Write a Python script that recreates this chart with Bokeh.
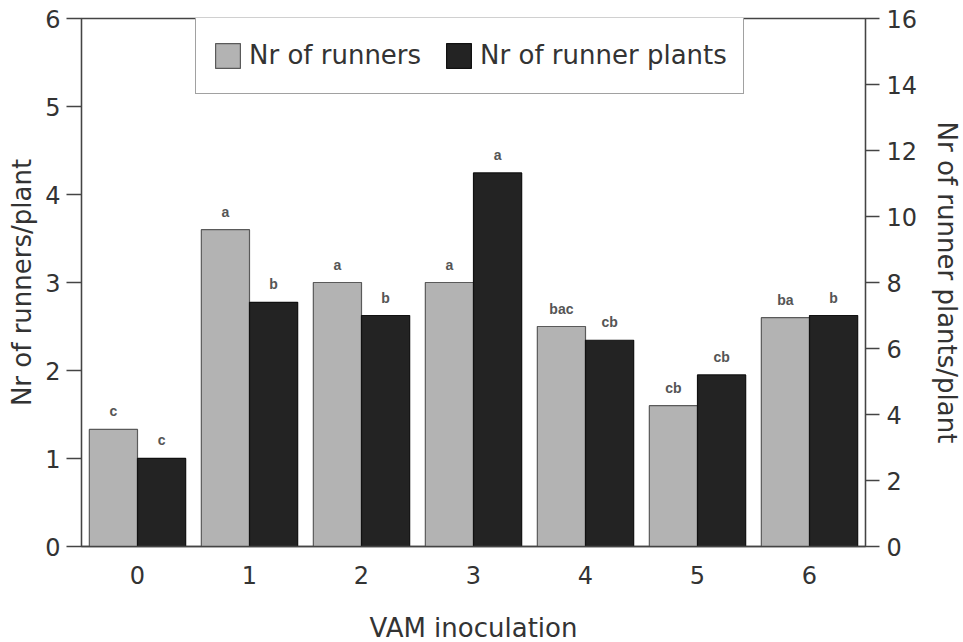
from bokeh.plotting import figure
from bokeh.models import (ColumnDataSource, Range1d, LinearAxis, FixedTicker,
                          Legend, LegendItem)
from bokeh.transform import dodge
from bokeh.core.properties import value
from bokeh.embed import file_html
from bokeh.resources import INLINE

# ---- data ----
vam = [0, 1, 2, 3, 4, 5, 6]
runners = [1.33, 3.6, 3.0, 3.0, 2.5, 1.6, 2.6]            # left axis
runner_plants = [2.67, 7.4, 7.0, 11.32, 6.25, 5.2, 7.0]   # right axis
runners_sig = ["c", "a", "a", "a", "bac", "cb", "ba"]
plants_sig = ["c", "b", "b", "a", "cb", "cb", "b"]
left_ticks = [0, 1, 2, 3, 4, 5, 6]
right_ticks = [0, 2, 4, 6, 8, 10, 12, 14, 16]

src = ColumnDataSource(dict(x=vam, r=runners, p=runner_plants,
                            rs=runners_sig, ps=plants_sig))

FONT = "DejaVu Sans"
AX = "#444444"

p = figure(frame_width=784, frame_height=528, output_backend="svg",
           toolbar_location=None,
           x_range=Range1d(-0.5, 6.5), y_range=Range1d(0, 6),
           min_border_left=81, min_border_right=0, min_border_top=18,
           min_border_bottom=0, x_axis_location=None, y_axis_location=None)
p.extra_y_ranges = {"right": Range1d(0, 16)}
p.grid.visible = False
p.outline_line_color = AX
p.outline_line_width = 1.3
p.background_fill_color = "white"
p.border_fill_color = "white"

def style(ax):
    ax.axis_line_color = AX
    ax.axis_line_width = 1.3
    ax.major_tick_line_color = AX
    ax.major_tick_line_width = 1.3
    ax.minor_tick_line_color = None
    ax.major_tick_in = 0
    ax.major_label_text_font = FONT
    ax.major_label_text_font_size = "24px"
    ax.major_label_text_color = "#333333"
    ax.axis_label_text_font = FONT
    ax.axis_label_text_font_size = "26px"
    ax.axis_label_text_font_style = "normal"
    ax.axis_label_text_color = "#333333"

xa = LinearAxis(ticker=FixedTicker(ticks=vam), axis_label="VAM inoculation")
style(xa)
xa.major_tick_out = 0
xa.major_label_standoff = 19
xa.axis_label_standoff = 26
p.add_layout(xa, "below")

ya = LinearAxis(ticker=FixedTicker(ticks=left_ticks), axis_label="Nr of runners/plant")
style(ya)
ya.major_tick_out = 15
ya.major_label_standoff = 6
ya.axis_label_standoff = 5
p.add_layout(ya, "left")

yr = LinearAxis(y_range_name="right", ticker=FixedTicker(ticks=right_ticks),
                axis_label="Nr of runner plants/plant")
style(yr)
yr.major_tick_out = 14
yr.major_label_standoff = 7
yr.axis_label_standoff = 12
p.add_layout(yr, "right")

W = 0.43
g1 = p.vbar(x=dodge("x", -W / 2), top="r", bottom=0, width=W, source=src,
            fill_color="#b3b3b3", line_color="#5a5a5a", line_width=1.2)
g2 = p.vbar(x=dodge("x", W / 2), top="p", bottom=0, width=W, source=src,
            y_range_name="right", fill_color="#232323", line_color="#111111",
            line_width=1.2)

p.text(x=dodge("x", -W / 2), y="r", text="rs", source=src, text_align="center",
       text_baseline="bottom", y_offset=-10, text_font=value("Liberation Sans"),
       text_font_style="bold", text_font_size="14px", text_color="#555555")
p.text(x=dodge("x", W / 2), y="p", text="ps", source=src, y_range_name="right",
       text_align="center", text_baseline="bottom", y_offset=-10,
       text_font=value("Liberation Sans"), text_font_style="bold",
       text_font_size="14px", text_color="#555555")

leg = Legend(items=[LegendItem(label="Nr of runners", renderers=[g1]),
                    LegendItem(label="Nr of runner plants", renderers=[g2])],
             orientation="horizontal", location=(114, 452))
leg.glyph_width = 31
leg.glyph_height = 31
leg.label_height = 44
leg.label_text_font = FONT
leg.label_text_font_size = "26px"
leg.label_text_color = "#333333"
leg.label_standoff = 6
leg.spacing = 22
leg.padding = 16
leg.margin = 0
leg.border_line_color = AX
leg.border_line_width = 1.2
leg.background_fill_alpha = 1
p.add_layout(leg, "center")

open("out.html", "w").write(file_html(p, INLINE))
